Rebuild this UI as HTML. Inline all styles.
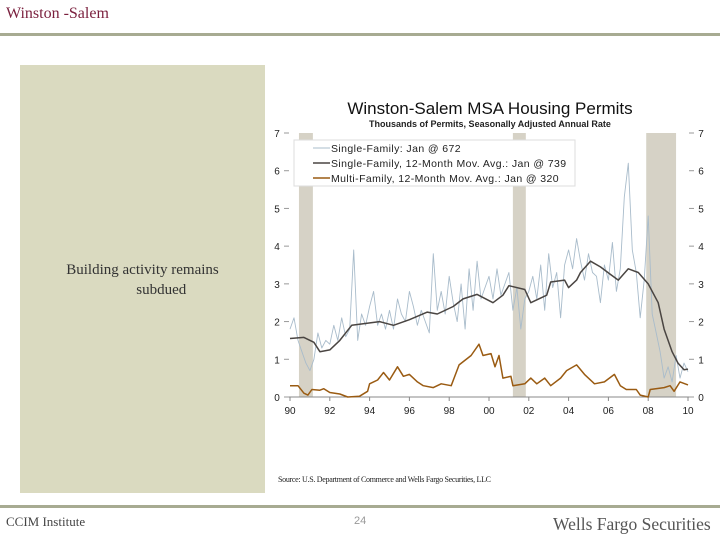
<!DOCTYPE html>
<html><head><meta charset="utf-8"><style>
body{margin:0;width:720px;height:540px;position:relative;background:#fff;overflow:hidden;font-family:"Liberation Serif",serif}
.abs{position:absolute}
</style></head><body>
<div class="abs" style="left:6px;top:5px;font-size:16px;color:#7a1f3d;">Winston -Salem</div>
<div class="abs" style="left:0;top:33px;width:720px;height:3px;background:#a7ab92"></div>
<div class="abs" style="left:20px;top:65px;width:245px;height:428px;background:#dadac0"></div>
<div class="abs" style="left:20px;top:260px;width:245px;text-align:center;font-size:15px;line-height:20px;color:#333">Building activity remains<br>&nbsp;&nbsp;&nbsp;&nbsp;&nbsp;&nbsp;&nbsp;&nbsp;&nbsp;&nbsp;subdued</div>
<div class="abs" style="left:278px;top:475px;font-size:8px;color:#222;letter-spacing:-0.3px">Source: U.S. Department of Commerce and Wells Fargo Securities, LLC</div>
<div class="abs" style="left:0;top:505px;width:720px;height:3px;background:#a7ab92"></div>
<div class="abs" style="left:6px;top:514px;font-size:13px;color:#444">CCIM Institute</div>
<div class="abs" style="left:354px;top:515px;font-size:11px;color:#999;font-family:'Liberation Sans',sans-serif">24</div>
<div class="abs" style="left:553px;top:514px;font-size:17.5px;color:#555">Wells Fargo Securities</div>
<svg class="abs" style="left:0;top:0" width="720" height="540" id="chart" font-family="'Liberation Sans',sans-serif"></svg>
<script>
const yTicks=[0,1,2,3,4,5,6,7];
const xTickYears=[1990,1992,1994,1996,1998,2000,2002,2004,2006,2008,2010];
const xTickLabels=["90","92","94","96","98","00","02","04","06","08","10"];
const recessions=[[1990.45,1991.15],[2001.2,2001.85],[2007.9,2009.4]];
const sfYears=[1990,1990.2,1990.4,1990.6,1990.8,1991,1991.2,1991.4,1991.6,1991.8,1992,1992.2,1992.4,1992.6,1992.8,1993,1993.2,1993.4,1993.6,1993.8,1994,1994.2,1994.4,1994.6,1994.8,1995,1995.2,1995.4,1995.6,1995.8,1996,1996.2,1996.4,1996.6,1996.8,1997,1997.2,1997.4,1997.6,1997.8,1998,1998.2,1998.4,1998.6,1998.8,1999,1999.2,1999.4,1999.6,1999.8,2000,2000.2,2000.4,2000.6,2000.8,2001,2001.2,2001.4,2001.6,2001.8,2002,2002.2,2002.4,2002.6,2002.8,2003,2003.2,2003.4,2003.6,2003.8,2004,2004.2,2004.4,2004.6,2004.8,2005,2005.2,2005.4,2005.6,2005.8,2006,2006.2,2006.4,2006.6,2006.8,2007,2007.2,2007.4,2007.6,2007.8,2008,2008.2,2008.4,2008.6,2008.8,2009,2009.2,2009.4,2009.6,2009.8,2010];
const sfValues=[1.8,2.1,1.5,1.2,0.9,0.7,1.0,1.7,1.3,1.5,1.4,1.9,1.5,2.1,1.6,1.8,3.9,1.5,2.2,1.9,2.4,2.8,1.9,2.2,1.8,2.3,1.8,2.6,2.2,2.0,2.8,2.4,1.9,2.3,2.0,1.7,3.8,2.3,2.8,2.2,3.2,2.5,2.0,3.0,1.8,3.4,2.3,3.6,2.6,2.9,3.2,2.6,3.4,2.7,3.0,3.3,2.3,2.9,1.8,2.6,2.8,3.2,2.6,3.5,2.3,3.8,2.9,3.3,2.1,3.5,3.9,3.4,4.2,3.6,3.1,3.8,3.3,3.2,2.5,3.5,3.1,4.1,2.8,3.4,5.3,6.2,3.9,3.3,2.1,3.1,4.8,2.2,1.7,1.2,0.5,0.8,0.4,1.1,0.5,0.9,0.67];
const maYears=[1990,1990.7,1991.2,1991.5,1992,1992.5,1993.1,1994.5,1995.2,1996,1996.9,1997.4,1998.2,1998.7,1999.4,2000.2,2000.7,2001,2001.8,2002.1,2002.9,2003.1,2003.8,2004,2004.4,2004.6,2005.1,2005.6,2006.1,2006.5,2007,2007.5,2008,2008.5,2008.8,2009.2,2009.5,2009.8,2010];
const maValues=[1.55,1.58,1.45,1.2,1.25,1.5,1.9,2.0,1.9,2.05,2.25,2.2,2.4,2.6,2.72,2.5,2.7,2.95,2.85,2.5,2.7,3.05,3.1,2.9,3.1,3.3,3.6,3.45,3.25,3.1,3.4,3.3,3.0,2.5,1.8,1.2,0.9,0.72,0.74];
const mfYears=[1990,1990.4,1990.7,1990.9,1991.1,1991.5,1991.7,1992,1992.5,1992.9,1993.5,1993.9,1994,1994.4,1994.7,1995,1995.4,1995.7,1996,1996.4,1996.7,1997.2,1997.6,1998.1,1998.5,1999.1,1999.5,1999.7,2000.1,2000.3,2000.5,2000.7,2001.1,2001.2,2001.8,2002.1,2002.4,2002.8,2003.1,2003.6,2003.9,2004.4,2004.8,2005.3,2005.8,2006.3,2006.6,2006.9,2007.4,2007.6,2008,2008.1,2008.8,2009.1,2009.3,2009.6,2010];
const mfValues=[0.3,0.3,0.1,0.05,0.2,0.18,0.22,0.12,0.08,0.0,0.02,0.15,0.35,0.45,0.65,0.45,0.8,0.55,0.6,0.4,0.3,0.25,0.35,0.3,0.85,1.1,1.4,1.1,1.15,0.8,1.1,0.5,0.55,0.3,0.35,0.5,0.35,0.5,0.3,0.5,0.7,0.85,0.6,0.35,0.4,0.6,0.3,0.2,0.2,0.05,0.0,0.2,0.25,0.3,0.15,0.4,0.32];

const svg=document.getElementById('chart');
const NS='http://www.w3.org/2000/svg';
const X0=290,X1=688,Y0=397,Y1=133;
const sx=y=>X0+(y-1990)/20*(X1-X0);
const sy=v=>Y0-v/7*(Y0-Y1);
function mk(tag,attrs){const e=document.createElementNS(NS,tag);for(const k in attrs)e.setAttribute(k,attrs[k]);svg.appendChild(e);return e;}
recessions.forEach(r=>{
 const e=mk('rect',{x:sx(r[0]),y:Y1,width:sx(r[1])-sx(r[0]),height:Y0-Y1,fill:'#d6d2c6'});
 
 
});
let a=mk('line',{x1:X0-4,y1:Y0,x2:X1+4,y2:Y0,stroke:'#888','stroke-width':1});

yTicks.forEach(v=>{
 mk('line',{x1:X0-6,y1:sy(v),x2:X0-1,y2:sy(v),stroke:'#999'});
 mk('line',{x1:X1+1,y1:sy(v),x2:X1+6,y2:sy(v),stroke:'#999'});
 let t=mk('text',{x:277,y:sy(v)+4,'font-size':10,'text-anchor':'middle',fill:'#222'});t.textContent=v;
 
 t=mk('text',{x:701,y:sy(v)+4,'font-size':10,'text-anchor':'middle',fill:'#222'});t.textContent=v;
 
});
xTickYears.forEach((y,i)=>{
 mk('line',{x1:sx(y),y1:Y0,x2:sx(y),y2:Y0+4,stroke:'#888'});
 const t=mk('text',{x:sx(y),y:Y0+17,'font-size':10,'text-anchor':'middle',fill:'#222'});t.textContent=xTickLabels[i];
 
});
function line(xs,vs,color,w,name){
 const d=xs.map((x,i)=>(i?'L':'M')+sx(x).toFixed(1)+','+sy(vs[i]).toFixed(1)).join('');
 const p=mk('path',{d:d,fill:'none',stroke:color,'stroke-width':w,'stroke-linejoin':'round'});
 
}
const lg=mk('rect',{x:294,y:140,width:281,height:46,fill:'#fff',stroke:'#ddd'});

line(sfYears,sfValues,'#a9bccb',0.9,'single-family-line');
line(maYears,maValues,'#4a4542',1.5,'single-family-moving-avg-line');
line(mfYears,mfValues,'#9a5b12',1.5,'multi-family-moving-avg-line');
const leg=[['Single-Family: Jan @ 672','#a9bccb',0.9],['Single-Family, 12-Month Mov. Avg.: Jan @ 739','#4a4542',1.5],['Multi-Family, 12-Month Mov. Avg.: Jan @ 320','#9a5b12',1.5]];
leg.forEach((l,i)=>{
 const y=148+i*15;
 mk('line',{x1:313,y1:y,x2:330,y2:y,stroke:l[1],'stroke-width':l[2]});
 const t=mk('text',{x:331,y:y+4,'font-size':10.5,'letter-spacing':0.4,fill:'#222'});t.textContent=l[0];
 
});
let t=mk('text',{x:490,y:114,'font-size':17,'text-anchor':'middle',fill:'#111'});t.textContent='Winston-Salem MSA Housing Permits';

t=mk('text',{x:490,y:127,'font-size':9,'font-weight':'bold','text-anchor':'middle',fill:'#222'});t.textContent='Thousands of Permits, Seasonally Adjusted Annual Rate';

</script>
</body></html>
